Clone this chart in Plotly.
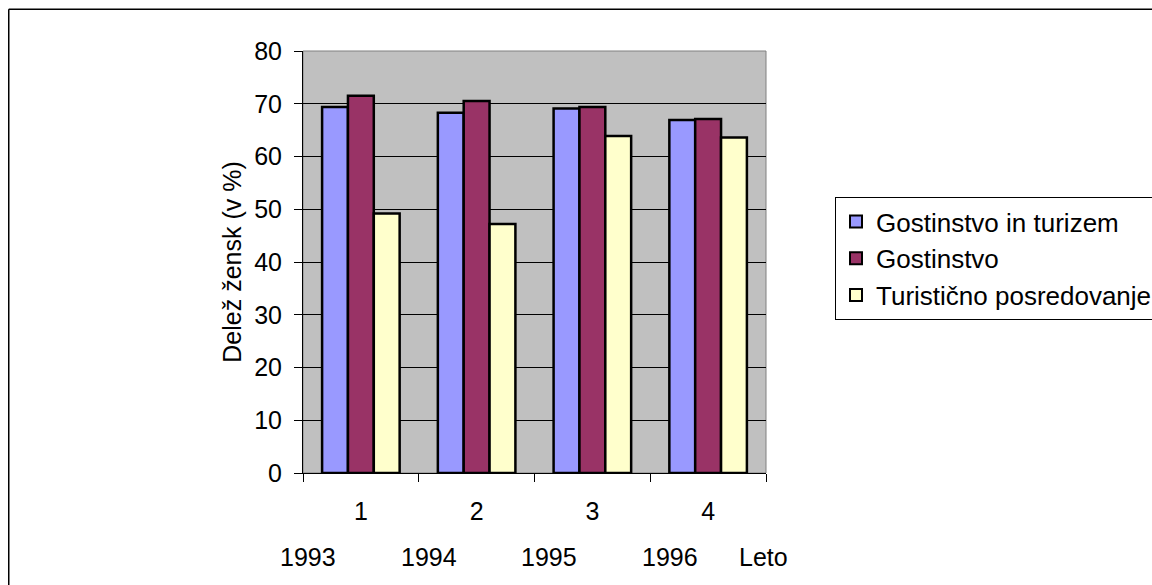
import plotly.graph_objects as go

categories = ["1", "2", "3", "4"]
series_names = ["Gostinstvo in turizem", "Gostinstvo", "Turistično posredovanje"]
gostinstvo_turizem = [69.4, 68.3, 69.1, 66.9]
gostinstvo = [71.5, 70.5, 69.4, 67.1]
turisticno_posredovanje = [49.2, 47.2, 63.9, 63.6]
year_labels = ["1993", "1994", "1995", "1996", "Leto"]
y_ticks = [0, 10, 20, 30, 40, 50, 60, 70, 80]

colors = ["#9999FF", "#993366", "#FFFFCC"]
FONT = "Liberation Sans, Arial, sans-serif"
FS = 25

W, H = 1152, 585
L, R, T, B = 303, 766, 51, 473

fig = go.Figure()
for name, vals, col in zip(series_names,
                           [gostinstvo_turizem, gostinstvo, turisticno_posredovanje],
                           colors):
    fig.add_trace(go.Bar(x=categories, y=vals, name=name,
                         marker=dict(color=col, line=dict(color="black", width=2.5))))

fig.update_layout(
    width=W, height=H, autosize=False,
    margin=dict(l=L, r=W - R, t=T, b=H - B, pad=0),
    paper_bgcolor="white", plot_bgcolor="#C0C0C0",
    font=dict(family=FONT, size=FS, color="black"),
    barmode="group", bargap=0.33, bargroupgap=0,
    showlegend=True,
    legend=dict(xref="container", yref="container",
                x=835 / W, y=1 - 197 / H, xanchor="left", yanchor="top",
                bgcolor="white", bordercolor="black", borderwidth=1,
                font=dict(family=FONT, size=26, color="black"),
                tracegroupgap=0, itemsizing="constant", itemwidth=30),
)

fig.update_yaxes(range=[0, 80], tickvals=y_ticks, showgrid=True, gridcolor="black", gridwidth=1,
                 ticks="outside", ticklen=8, tickcolor="black", showline=True, linecolor="black",
                 linewidth=1, zeroline=False, tickfont=dict(size=FS), ticklabelstandoff=7,
                 title=dict(text="Delež žensk (v %)", font=dict(size=FS), standoff=5),
                 fixedrange=True)
fig.update_xaxes(type="category", ticks="outside", tickson="boundaries", ticklen=8,
                 tickcolor="black", showline=True, linecolor="black", linewidth=1,
                 showgrid=False, tickfont=dict(size=FS), ticklabelstandoff=16)

# gray plot border (top and right)
fig.add_shape(type="rect", xref="paper", yref="paper", x0=0, x1=1, y0=0, y1=1,
              line=dict(color="#808080", width=1), layer="below")

# outer frame (left and top edges)
fx0 = (8.75 - L) / (R - L)
fx1 = (W + 20 - L) / (R - L)
fy0 = (B - (H + 20)) / (B - T)
fy1 = (B - 9.25) / (B - T)
fig.add_shape(type="line", xref="paper", yref="paper", x0=fx0, x1=fx0, y0=fy0, y1=fy1,
              line=dict(color="black", width=1.5))
fig.add_shape(type="line", xref="paper", yref="paper", x0=fx0, x1=fx1, y0=fy1, y1=fy1,
              line=dict(color="black", width=1.5))

# year labels below axis
year_px = [308, 429, 549, 670, 763]
for lab, px in zip(year_labels, year_px):
    fig.add_annotation(text=lab, xref="paper", yref="paper",
                       x=(px - L) / (R - L), y=(B - 557) / (B - T),
                       showarrow=False, xanchor="center", yanchor="middle",
                       font=dict(size=FS, family=FONT, color="black"))

fig.write_html("out.html",
               config={"displayModeBar": False},
               post_script="document.body.style.margin='0';"
                           "document.documentElement.style.overflow='hidden';"
                           "document.body.style.overflow='hidden';")
